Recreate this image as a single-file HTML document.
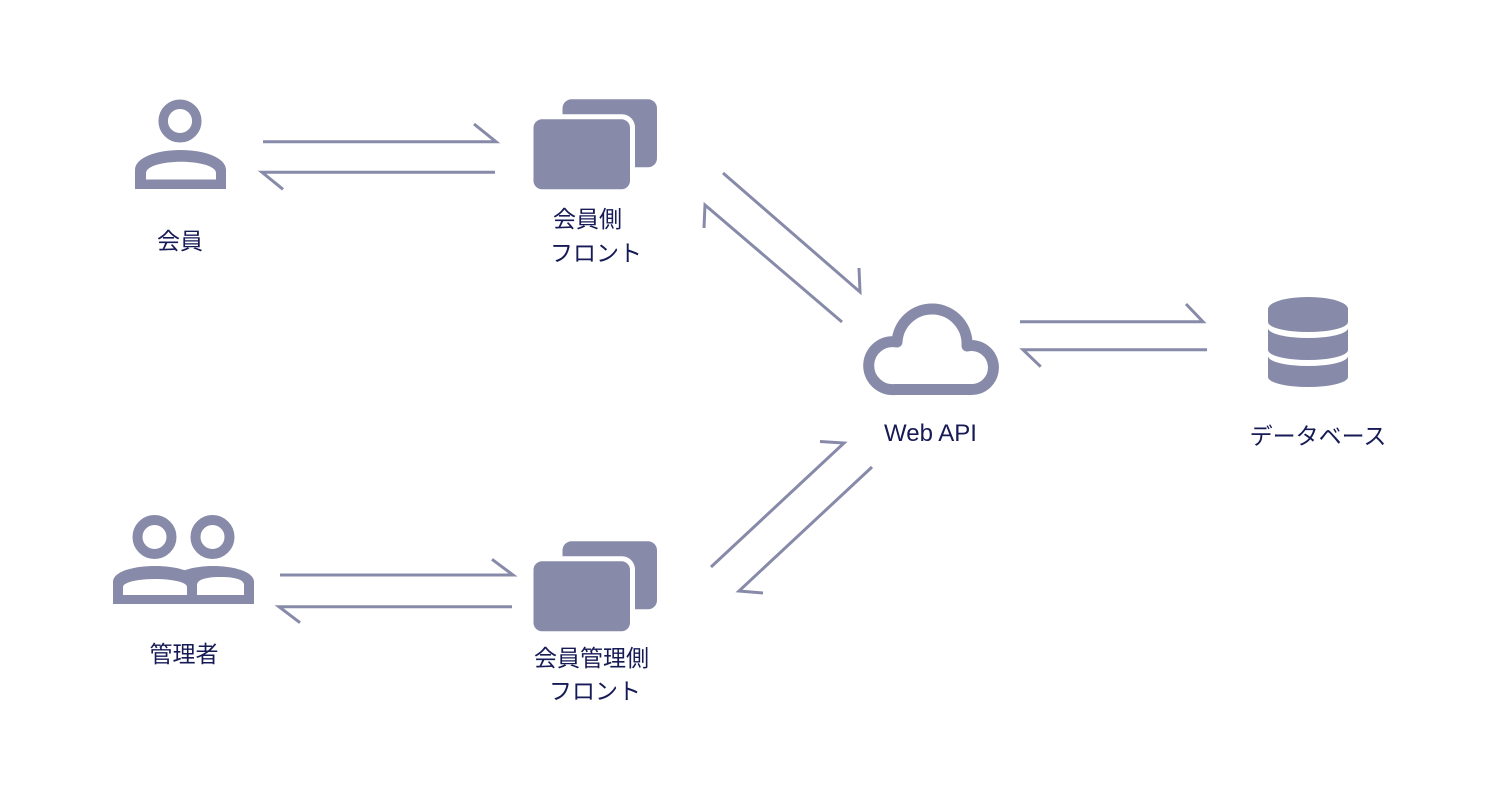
<!DOCTYPE html>
<html>
<head>
<meta charset="utf-8">
<style>
  html, body { margin:0; padding:0; background:#ffffff; }
  body { width:1500px; height:800px; overflow:hidden; }
  svg { display:block; }
  text { font-family: "Liberation Sans", "Noto Sans CJK JP", sans-serif; fill:#161a55; }
</style>
</head>
<body>
<svg width="1500" height="800" viewBox="0 0 1500 800" xmlns="http://www.w3.org/2000/svg">
  <rect x="0" y="0" width="1500" height="800" fill="#ffffff"/>

  <!-- ===== Person icon (会員) ===== -->
  <circle cx="180" cy="121" r="16.8" fill="none" stroke="#878aa8" stroke-width="9.5"/>
  <path fill="#878aa8" fill-rule="evenodd"
    d="M135,189 V170 C135,157 158,150 180.5,150 C203,150 226,157 226,170 V189 Z
       M146,179.5 V173 C146,166 163,161.7 181,161.7 C199,161.7 216,166 216,173 V179.5 Z"/>

  <!-- ===== Admin icon (管理者) ===== -->
  <circle cx="154.5" cy="537" r="17" fill="none" stroke="#878aa8" stroke-width="10"/>
  <circle cx="212.5" cy="537" r="17" fill="none" stroke="#878aa8" stroke-width="10"/>
  <!-- right body outer -->
  <path fill="#878aa8" d="M172,604 V582 C172,571 195,566 213,566 C232,566 254,571 254,582 V604 Z"/>
  <!-- left body outer -->
  <path fill="#878aa8" d="M113,604 V582 C113,571 135,566 155,566 C175,566 197,571 197,582 V604 Z"/>
  <!-- inners -->
  <path fill="#ffffff" d="M123,595 V587 C123,582 139,579 155,579 C171,579 187,582 187,587 V595 Z"/>
  <path fill="#ffffff" d="M197,595 V585 C197,580 205,577 220.5,577 C236,577 244,580 244,585 V595 Z"/>

  <!-- ===== Upper frontend icon ===== -->
  <rect x="562.5" y="99.3" width="94.5" height="68" rx="9" fill="#878aa8"/>
  <rect x="528.5" y="114.3" width="106.5" height="80" rx="13" fill="#ffffff"/>
  <rect x="533.5" y="119.3" width="96.5" height="70" rx="8.5" fill="#878aa8"/>

  <!-- ===== Lower frontend icon ===== -->
  <rect x="562.5" y="541.3" width="94.5" height="68" rx="9" fill="#878aa8"/>
  <rect x="528.5" y="556.3" width="106.5" height="80" rx="13" fill="#ffffff"/>
  <rect x="533.5" y="561.3" width="96.5" height="70" rx="8.5" fill="#878aa8"/>

  <!-- ===== Cloud icon ===== -->
  <path fill="none" stroke="#878aa8" stroke-width="11" stroke-linejoin="round"
    d="M895,389.5 A24,24 0 1 1 897,342 A35,35 0 0 1 967,346 A22,22 0 1 1 970,389.5 Z"/>

  <!-- ===== Database icon ===== -->
  <path fill="#878aa8" d="M1268,309 A40,12 0 0 1 1348,309 L1348,322 A40,10 0 0 1 1268,322 Z"/>
  <path fill="#878aa8" d="M1268,328 A40,10 0 0 0 1348,328 L1348,350 A40,10 0 0 1 1268,350 Z"/>
  <path fill="#878aa8" d="M1268,356 A40,10 0 0 0 1348,356 L1348,377 A40,10 0 0 1 1268,377 Z"/>

  <!-- ===== Connectors ===== -->
  <g fill="none" stroke="#878aa8" stroke-width="3" stroke-linejoin="miter" stroke-miterlimit="4">
    <!-- 会員 <-> 会員側フロント -->
    <polyline points="263,141.7 496,141.7 474,124"/>
    <polyline points="495,172.3 262,172.3 283,189.3"/>
    <!-- 会員側フロント <-> Web API -->
    <polyline points="723,173 860,292 859,268"/>
    <polyline points="842,322 705,205 704,228"/>
    <!-- Web API <-> データベース -->
    <polyline points="1020,321.7 1203,321.7 1186,304"/>
    <polyline points="1207,349.7 1023,349.7 1040.7,366.7"/>
    <!-- 管理者 <-> 会員管理側フロント -->
    <polyline points="280,575 513,575 492,559.3"/>
    <polyline points="512,606.7 279,606.7 300,622.7"/>
    <!-- 会員管理側フロント <-> Web API -->
    <polyline points="711,567 844,443 820,441.5"/>
    <polyline points="872,467 739,591 763,593"/>
  </g>

  <!-- ===== Labels ===== -->
  <g font-size="23">
    <text x="180" y="249" text-anchor="middle">会員</text>
    <text x="553" y="227">会員側</text>
    <text x="550" y="261">フロント</text>
    <text x="930.5" y="441" text-anchor="middle" font-size="24">Web API</text>
    <text x="1318" y="444" text-anchor="middle">データベース</text>
    <text x="184" y="662" text-anchor="middle">管理者</text>
    <text x="534" y="666">会員管理側</text>
    <text x="549" y="699">フロント</text>
  </g>
</svg>
</body>
</html>
